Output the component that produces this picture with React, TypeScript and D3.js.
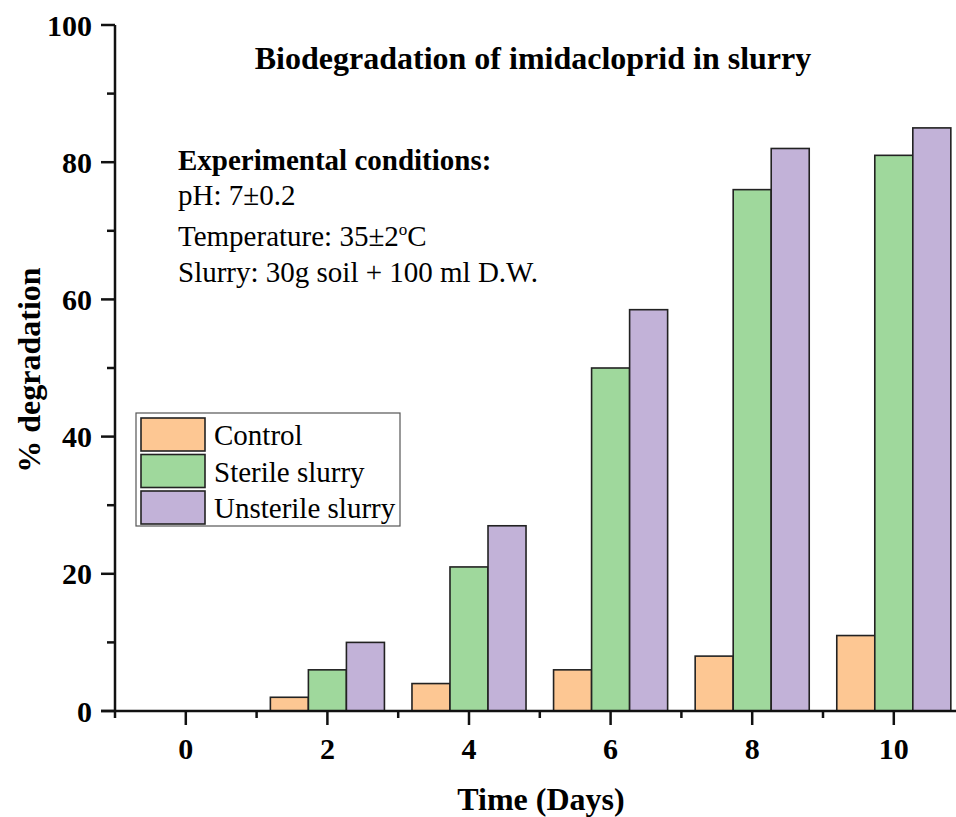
import React from "react";
import * as d3 from "d3";

const days = [0, 2, 4, 6, 8, 10];
const controlValues = [0, 2, 4, 6, 8, 11];
const sterileValues = [0, 6, 21, 50, 76, 81];
const unsterileValues = [0, 10, 27, 58.5, 82, 85];
const seriesNames = ["Control", "Sterile slurry", "Unsterile slurry"];
const seriesColors = ["#FDC793", "#9FD89C", "#C2B2D8"];
const yTicks = [0, 20, 40, 60, 80, 100];
const yMinorTicks = [10, 30, 50, 70, 90];
const xTicks = [0, 2, 4, 6, 8, 10];
const xMinorTicks = [-1, 1, 3, 5, 7, 9, 11];
const conditionLines = ["pH: 7±0.2", "Temperature: 35±2", "Slurry: 30g soil + 100 ml D.W."];

const W = 956;
const H = 817;
const FONT = "'Liberation Serif', 'Times New Roman', serif";

export default function App() {
  const x = d3.scaleLinear().domain([-1, 11]).range([115, 115 + 12 * 70.8]);
  const y = d3.scaleLinear().domain([0, 100]).range([711, 25]);
  const barW = x(0.537) - x(0);
  const allSeries = [controlValues, sterileValues, unsterileValues];

  return (
    <svg width={W} height={H} style={{ position: "absolute", left: 0, top: 0, background: "#fff" }} fontFamily={FONT}>
      <rect x={0} y={0} width={W} height={H} fill="#fff" />
      {/* bars */}
      {allSeries.map((vals, si) =>
        vals.map((v, i) =>
          v > 0 ? (
            <rect
              key={`b${si}-${i}`}
              x={x(days[i]) + (si - 1.5) * barW}
              y={y(v)}
              width={barW}
              height={y(0) - y(v)}
              fill={seriesColors[si]}
              stroke="#222"
              strokeWidth={1.6}
            />
          ) : null
        )
      )}
      {/* axes */}
      <line x1={115} x2={115} y1={y(100)} y2={y(0)} stroke="#111" strokeWidth={2.5} />
      <line x1={101} x2={W + 20} y1={y(0)} y2={y(0)} stroke="#111" strokeWidth={2.5} />
      {yTicks.map((t) => (
        <g key={`yt${t}`}>
          <line x1={101} x2={115} y1={y(t)} y2={y(t)} stroke="#111" strokeWidth={2.5} />
          <text x={92} y={y(t)} dy="0.35em" textAnchor="end" fontSize={30} fontWeight="bold">
            {t}
          </text>
        </g>
      ))}
      {yMinorTicks.map((t) => (
        <line key={`ym${t}`} x1={107} x2={115} y1={y(t)} y2={y(t)} stroke="#111" strokeWidth={2.5} />
      ))}
      {xTicks.map((t) => (
        <g key={`xt${t}`}>
          <line x1={x(t)} x2={x(t)} y1={y(0)} y2={y(0) + 14} stroke="#111" strokeWidth={2.5} />
          <text x={x(t)} y={759} textAnchor="middle" fontSize={30} fontWeight="bold">
            {t}
          </text>
        </g>
      ))}
      {xMinorTicks.map((t) => (
        <line key={`xm${t}`} x1={x(t)} x2={x(t)} y1={y(0)} y2={y(0) + 7} stroke="#111" strokeWidth={2.5} />
      ))}
      {/* axis titles */}
      <text x={541} y={810} textAnchor="middle" fontSize={32} fontWeight="bold">
        Time (Days)
      </text>
      <text transform={`translate(40,370) rotate(-90)`} textAnchor="middle" fontSize={32} fontWeight="bold">
        % degradation
      </text>
      {/* title */}
      <text x={533} y={69} textAnchor="middle" fontSize={32} fontWeight="bold">
        Biodegradation of imidacloprid in slurry
      </text>
      {/* conditions */}
      <text x={178} y={170} fontSize={29} fontWeight="bold">
        Experimental conditions:
      </text>
      <text x={178} y={205} fontSize={29}>
        {conditionLines[0]}
      </text>
      <text x={178} y={246} fontSize={29}>
        {conditionLines[1]}
        <tspan fontSize={17} dy={-11}>o</tspan>
        <tspan dy={11}>C</tspan>
      </text>
      <text x={178} y={282} fontSize={29}>
        {conditionLines[2]}
      </text>
      {/* legend */}
      <rect x={136} y={413} width={264} height={113} fill="#fff" stroke="#555" strokeWidth={1.2} />
      {seriesNames.map((n, i) => (
        <g key={`lg${i}`}>
          <rect x={141} y={418 + i * 36.5} width={64} height={33} fill={seriesColors[i]} stroke="#222" strokeWidth={1.6} />
          <text x={214} y={418 + i * 36.5 + 17} dy="0.35em" fontSize={29}>
            {n}
          </text>
        </g>
      ))}
    </svg>
  );
}
